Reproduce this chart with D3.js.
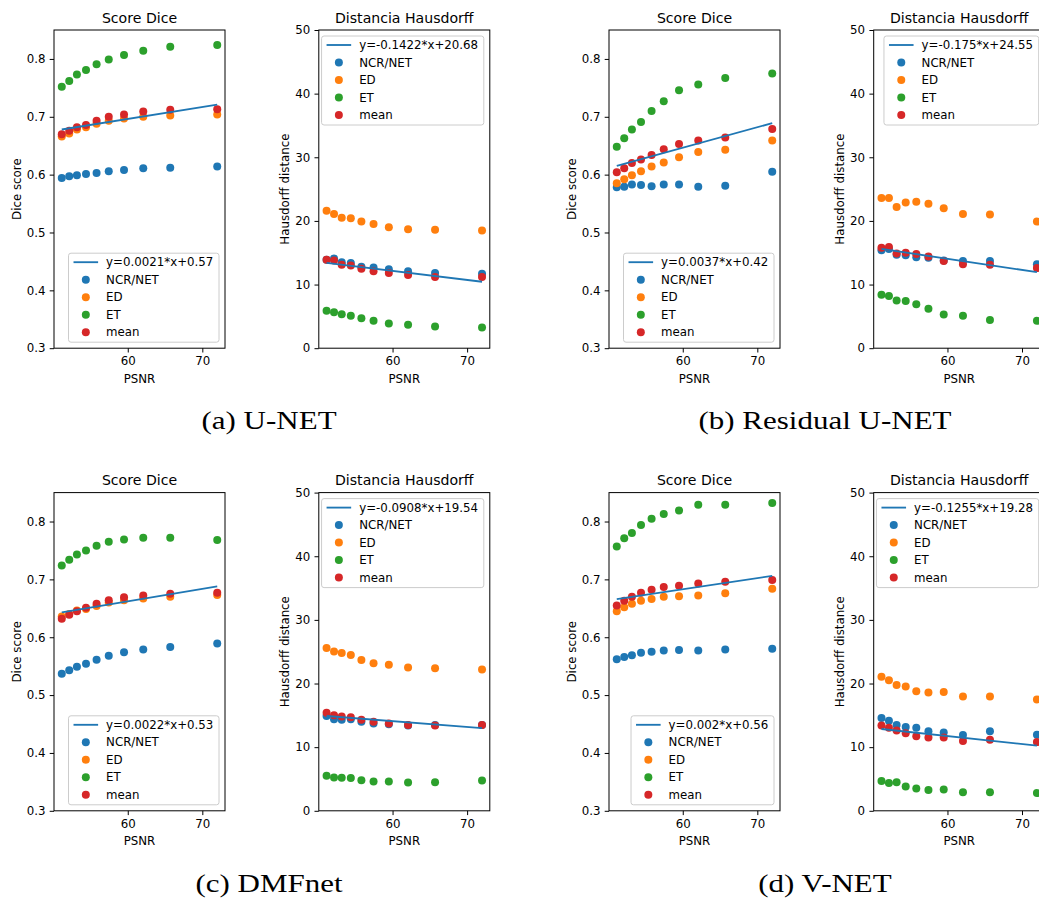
<!DOCTYPE html>
<html>
<head>
<meta charset="utf-8">
<script src="https://cdn.jsdelivr.net/npm/d3@7/dist/d3.min.js"></script>
<style>
  body { margin: 0; background: #fff; }
  svg { display: block; }
</style>
</head>
<body>
<div id="chart"></div>
<script>
// PSNR of each noise level (shared by every panel)
const psnr = [51.15, 52.15, 53.18, 54.4, 55.82, 57.45, 59.5, 62.08, 65.7, 72.0];
const seriesNames = ["NCR/NET", "ED", "ET", "mean"];
const seriesColors = ["#1f77b4", "#ff7f0e", "#2ca02c", "#d62728"];

const captions = ["(a) U-NET", "(b) Residual U-NET", "(c) DMFnet", "(d) V-NET"];

const diceTicks = [0.3, 0.4, 0.5, 0.6, 0.7, 0.8];
const hausTicks = [0, 10, 20, 30, 40, 50];
const psnrTicks = [60, 70];

// series order: NCR/NET, ED, ET, mean
const unetDice = [
  [0.594, 0.597, 0.599, 0.601, 0.603, 0.606, 0.608, 0.611, 0.612, 0.614],
  [0.666, 0.671, 0.678, 0.682, 0.688, 0.693, 0.697, 0.700, 0.702, 0.704],
  [0.752, 0.762, 0.773, 0.781, 0.791, 0.799, 0.807, 0.814, 0.821, 0.824],
  [0.670, 0.676, 0.682, 0.686, 0.693, 0.700, 0.704, 0.709, 0.712, 0.713],
];
const unetHaus = [
  [13.9, 14.1, 13.5, 13.4, 12.8, 12.7, 12.4, 12.1, 11.8, 11.7],
  [21.6, 21.1, 20.5, 20.4, 19.9, 19.5, 19.0, 18.7, 18.6, 18.5],
  [5.9, 5.65, 5.35, 5.1, 4.7, 4.3, 3.9, 3.7, 3.4, 3.25],
  [13.9, 13.8, 13.1, 13.0, 12.5, 12.1, 11.8, 11.5, 11.2, 11.2],
];
const resDice = [
  [0.578, 0.579, 0.583, 0.582, 0.580, 0.583, 0.583, 0.579, 0.581, 0.605],
  [0.585, 0.592, 0.599, 0.606, 0.614, 0.621, 0.630, 0.639, 0.643, 0.659],
  [0.648, 0.663, 0.678, 0.691, 0.710, 0.727, 0.746, 0.756, 0.767, 0.775],
  [0.604, 0.611, 0.620, 0.626, 0.634, 0.644, 0.653, 0.659, 0.664, 0.679],
];
const resHaus = [
  [15.4, 15.6, 14.7, 14.6, 14.3, 14.2, 13.8, 13.7, 13.7, 13.2],
  [23.6, 23.6, 22.2, 22.9, 23.0, 22.7, 22.0, 21.1, 21.0, 19.9],
  [8.4, 8.2, 7.5, 7.4, 6.9, 6.2, 5.3, 5.1, 4.45, 4.3],
  [15.8, 15.9, 14.9, 15.0, 14.8, 14.4, 13.7, 13.2, 13.1, 12.6],
];
const dmfDice = [
  [0.537, 0.543, 0.549, 0.554, 0.561, 0.568, 0.574, 0.579, 0.583, 0.589],
  [0.636, 0.640, 0.646, 0.649, 0.654, 0.660, 0.664, 0.667, 0.670, 0.673],
  [0.724, 0.734, 0.743, 0.750, 0.758, 0.765, 0.769, 0.772, 0.772, 0.768],
  [0.632, 0.639, 0.645, 0.651, 0.658, 0.664, 0.669, 0.672, 0.675, 0.677],
];
const dmfHaus = [
  [14.9, 14.4, 14.3, 14.4, 14.0, 13.7, 13.6, 13.4, 13.5, 13.5],
  [25.6, 25.05, 24.8, 24.5, 23.7, 23.2, 22.96, 22.5, 22.4, 22.2],
  [5.5, 5.24, 5.2, 5.14, 4.8, 4.6, 4.6, 4.45, 4.5, 4.77],
  [15.4, 15.0, 14.8, 14.7, 14.3, 14.0, 13.7, 13.5, 13.4, 13.5],
];
const vnetDice = [
  [0.562, 0.566, 0.569, 0.573, 0.575, 0.577, 0.578, 0.577, 0.579, 0.580],
  [0.645, 0.652, 0.658, 0.663, 0.666, 0.670, 0.671, 0.672, 0.676, 0.684],
  [0.757, 0.771, 0.780, 0.794, 0.805, 0.813, 0.819, 0.829, 0.829, 0.832],
  [0.655, 0.663, 0.670, 0.677, 0.682, 0.687, 0.689, 0.693, 0.696, 0.699],
];
const vnetHaus = [
  [14.6, 14.15, 13.5, 13.15, 13.05, 12.5, 12.3, 11.9, 12.5, 11.95],
  [21.07, 20.5, 19.76, 19.55, 18.8, 18.6, 18.66, 17.98, 17.98, 17.5],
  [4.7, 4.35, 4.5, 3.83, 3.5, 3.25, 3.35, 2.93, 2.93, 2.78],
  [13.4, 13.05, 12.6, 12.2, 11.7, 11.5, 11.5, 10.95, 11.16, 10.8],
];

// fitted line: value at first and last PSNR, and its legend label
const fitEnds = [
  [0.678, 0.721], [13.41, 10.44],
  [0.615, 0.689], [15.60, 11.95],
  [0.643, 0.688], [14.90, 13.00],
  [0.666, 0.706], [12.86, 10.24],
];
const fitLabels = [
  "y=0.0021*x+0.57", "y=-0.1422*x+20.68",
  "y=0.0037*x+0.42", "y=-0.175*x+24.55",
  "y=0.0022*x+0.53", "y=-0.0908*x+19.54",
  "y=0.002*x+0.56", "y=-0.1255*x+19.28",
];

const width = 1039;
const height = 902;
const panelW = 171;
const panelH = 318.2;
const rowTop = [30, 492.6];
const colLeft = [[54, 318.8], [609, 873.7]];
const captionX = [269, 825];
const captionY = [429.3, 892];
const fs = 11.8;

const svg = d3.select("#chart").append("svg")
  .attr("width", width)
  .attr("height", height)
  .style("font-family", "'DejaVu Sans', sans-serif");

const [xmin, xmax] = d3.extent(psnr);
const xpad = (xmax - xmin) * 0.05;

const models = [
  [unetDice, unetHaus],
  [resDice, resHaus],
  [dmfDice, dmfHaus],
  [vnetDice, vnetHaus],
];

const drawPanel = (left, top, data, isDice, fit, fitLabel) => {
  const x = d3.scaleLinear().domain([xmin - xpad, xmax + xpad]).range([left, left + panelW]);
  const y = d3.scaleLinear()
    .domain(isDice ? [0.3, 0.85] : [0, 50])
    .range([top + panelH, top]);
  const g = svg.append("g");

  // points
  data.forEach((vals, si) => {
    g.append("g").selectAll("circle")
      .data(vals)
      .join("circle")
      .attr("cx", (d, i) => x(psnr[i]))
      .attr("cy", (d) => y(d))
      .attr("r", 4)
      .attr("fill", seriesColors[si]);
  });

  // fitted line (drawn over the points)
  g.append("path")
    .datum([[xmin, fit[0]], [xmax, fit[1]]])
    .attr("d", d3.line().x((d) => x(d[0])).y((d) => y(d[1])))
    .attr("fill", "none")
    .attr("stroke", "#1f77b4")
    .attr("stroke-width", 1.85);

  // axes
  const yAxis = d3.axisLeft(y)
    .tickValues(isDice ? diceTicks : hausTicks)
    .tickFormat(isDice ? d3.format(".1f") : d3.format("d"))
    .tickSizeOuter(0).tickSize(4.3).tickPadding(4.3);
  const xAxis = d3.axisBottom(x)
    .tickValues(psnrTicks).tickFormat(d3.format("d"))
    .tickSizeOuter(0).tickSize(4.3).tickPadding(4.3);

  [g.append("g").attr("transform", `translate(${left},0)`).call(yAxis),
   g.append("g").attr("transform", `translate(0,${top + panelH})`).call(xAxis)]
    .forEach((a) => {
      a.select(".domain").remove();
      a.selectAll("line").attr("stroke", "#000").attr("stroke-width", 1);
      a.selectAll("text").attr("fill", "#000").style("font-size", fs + "px")
        .style("font-family", "'DejaVu Sans', sans-serif");
    });

  // frame
  g.append("rect")
    .attr("x", left).attr("y", top)
    .attr("width", panelW).attr("height", panelH)
    .attr("fill", "none").attr("stroke", "#000").attr("stroke-width", 1);

  // titles and labels
  g.append("text")
    .attr("x", left + panelW / 2).attr("y", top - 7.4)
    .attr("text-anchor", "middle").style("font-size", "14.1px")
    .text(isDice ? "Score Dice" : "Distancia Hausdorff");
  g.append("text")
    .attr("x", left + panelW / 2).attr("y", top + panelH + 34.4)
    .attr("text-anchor", "middle").style("font-size", fs + "px")
    .text("PSNR");
  const lx = left - (isDice ? 33.3 : 29.7);
  g.append("text")
    .attr("transform", `translate(${lx},${top + panelH / 2}) rotate(-90)`)
    .attr("text-anchor", "middle").style("font-size", fs + "px")
    .text(isDice ? "Dice score" : "Hausdorff distance");

  // legend
  const lg = g.append("g");
  const labels = [fitLabel, ...seriesNames];
  const box = lg.append("rect")
    .attr("fill", "#fff").attr("fill-opacity", 0.8)
    .attr("stroke", "#cccccc").attr("stroke-width", 1)
    .attr("rx", 2.5);
  const texts = lg.selectAll("text.lbl")
    .data(labels)
    .join("text")
    .attr("class", "lbl")
    .attr("x", 5 + 24.6 + 8)
    .attr("y", (d, i) => 9 + i * 17.5)
    .attr("dy", "0.34em")
    .style("font-size", fs + "px")
    .text((d) => d);
  let tw = 0;
  texts.each(function () { tw = Math.max(tw, this.getComputedTextLength()); });
  const bw = 5 + 24.6 + 8 + tw + 5.7;
  const bh = 9 + 4 * 17.5 + 10;
  box.attr("width", bw).attr("height", bh);
  lg.append("line")
    .attr("x1", 5).attr("x2", 5 + 24.6)
    .attr("y1", 9).attr("y2", 9)
    .attr("stroke", "#1f77b4").attr("stroke-width", 1.85);
  lg.selectAll("circle")
    .data(seriesColors)
    .join("circle")
    .attr("cx", 5 + 12.3)
    .attr("cy", (d, i) => 9 + (i + 1) * 17.5)
    .attr("r", 4)
    .attr("fill", (d) => d);
  const bx = left + panelW - 6 - bw;
  const by = isDice ? top + panelH - 6 - bh : top + 6;
  lg.attr("transform", `translate(${bx},${by})`);
};

models.forEach((m, k) => {
  const col = k % 2;
  const row = Math.floor(k / 2);
  drawPanel(colLeft[col][0], rowTop[row], m[0], true, fitEnds[k * 2], fitLabels[k * 2]);
  drawPanel(colLeft[col][1], rowTop[row], m[1], false, fitEnds[k * 2 + 1], fitLabels[k * 2 + 1]);
  svg.append("text")
    .attr("transform", `translate(${captionX[col]},${captionY[row]}) scale(1.24,1)`)
    .attr("text-anchor", "middle")
    .style("font-family", "'Liberation Serif', serif")
    .style("font-size", "25px")
    .text(captions[k]);
});
</script>
</body>
</html>
